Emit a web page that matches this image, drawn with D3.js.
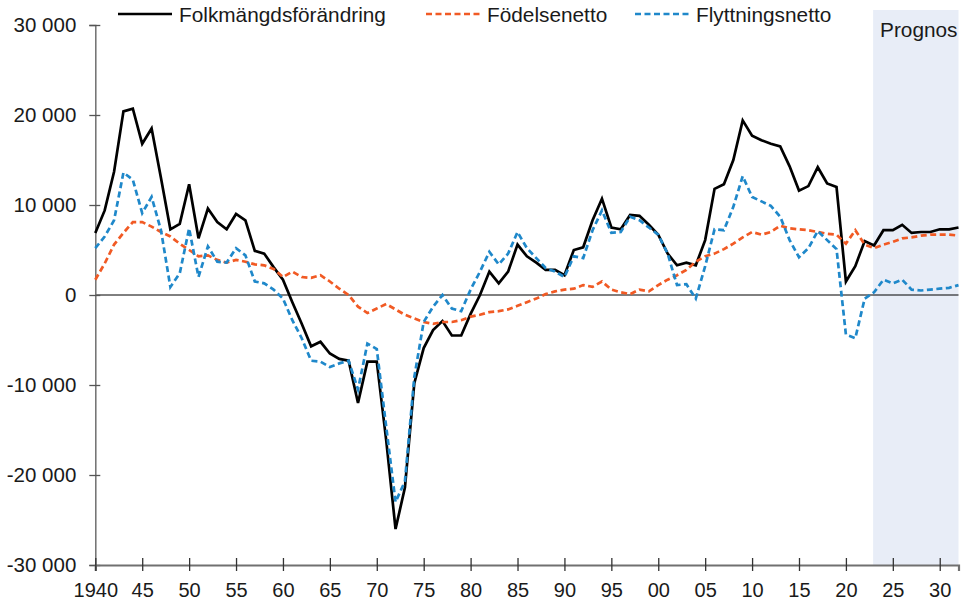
<!DOCTYPE html>
<html lang="sv">
<head>
    <meta charset="UTF-8">
    <title>Folkmängdsförändring</title>
    <script src="https://cdn.jsdelivr.net/npm/d3@7/dist/d3.min.js"></script>
    <style>
        body { margin: 0; background: #fff; }
        text { font-family: "Liberation Sans", Arial, sans-serif; fill: #1a1a1a; }
    </style>
</head>
<body>
<div id="chart"></div>
<script>

    // years 1940..2032
    const years = d3.range(1940, 2033);

    const folkmangd = [
        6900, 9400, 13700, 20400, 20700, 16800, 18500, 13000, 7300, 7900,
        12300, 6300, 9600, 8100, 7300, 9000, 8300, 4900, 4600, 3100,
        1700, -800, -3200, -5700, -5200, -6500, -7100, -7300, -12000, -7400,
        -7400, -16100, -26000, -21400, -9800, -5900, -3900, -2900, -4500, -4500,
        -2100, 0, 2600, 1300, 2600, 5600, 4300, 3600, 2800, 2800,
        2200, 5000, 5300, 8300, 10700, 7500, 7300, 8900, 8800, 7800,
        6700, 4600, 3300, 3600, 3300, 6100, 11800, 12300, 15000, 19400,
        17700, 17200, 16800, 16500, 14300, 11600, 12100, 14200, 12400, 12000,
        1500, 3200, 6000, 5500, 7200, 7200, 7800, 6900, 7000, 7000,
        7300, 7300, 7500
    ];

    const fodelsenetto = [
        1700, 3500, 5600, 6900, 8100, 8100, 7600, 7000, 6500, 5700,
        5000, 4300, 4400, 3900, 3600, 3900, 3700, 3400, 3300, 2900,
        2000, 2600, 2000, 1900, 2200, 1500, 700, 0, -1300, -2000,
        -1500, -1000, -1600, -2200, -2600, -3000, -3200, -3000, -3000, -2800,
        -2400, -2200, -1900, -1800, -1600, -1200, -800, -400, 100, 400,
        600, 700, 1100, 900, 1500, 600, 300, 100, 600, 400,
        1100, 1700, 2200, 2800, 3700, 4300, 4600, 5100, 5700, 6400,
        7000, 6700, 7000, 7700, 7400, 7300, 7200, 7000, 6800, 6700,
        5700, 7200, 5600, 5200, 5600, 5900, 6300, 6400, 6600, 6700,
        6700, 6700, 6600
    ];

    const flyttningsnetto = [
        5200, 6500, 8300, 13600, 12800, 9100, 10900, 7200, 900, 2400,
        7400, 2000, 5400, 3700, 3600, 5200, 4400, 1500, 1300, 600,
        -400, -2800, -4800, -7300, -7400, -8000, -7600, -7300, -10500, -5400,
        -6000, -14600, -23000, -20700, -9100, -3000, -1300, 0, -1500, -1800,
        600, 2600, 4800, 3400, 4600, 7000, 5200, 4100, 3000, 2600,
        2000, 4300, 4100, 7200, 9400, 6900, 7000, 8700, 8300, 7500,
        6700, 4600, 1100, 1200, -400, 3200, 7300, 7200, 9800, 13200,
        10900, 10400, 9900, 8700, 6100, 4200, 5200, 7100, 6100, 5100,
        -4400, -4800, -400, 300, 1700, 1300, 1700, 600, 500, 600,
        700, 800, 1100
    ];

    const yTicks = [-30000, -20000, -10000, 0, 10000, 20000, 30000];
    const xTicks = d3.range(1940, 2031, 5);
    const prognosStart = 2022.9;

    const series = [
        {name: "Folkmängdsförändring", values: folkmangd, color: "#000", dash: null},
        {name: "Födelsenetto", values: fodelsenetto, color: "#F15A24", dash: "6,3.5"},
        {name: "Flyttningsnetto", values: flyttningsnetto, color: "#1F88CA", dash: "6,3.5"}
    ];

    const width = 964, height = 604;

    const x = d3.scaleLinear().domain([1940, 2032]).range([95.3, 958.5]);
    const y = d3.scaleLinear().domain([-30000, 30000]).range([565, 25]);

    const sv = d3.formatLocale({decimal: ",", thousands: " ", grouping: [3], currency: ["", ""], minus: "-"});
    const fmt = sv.format(",d");

    const svg = d3.select("#chart")
        .append("svg")
        .attr("width", width)
        .attr("height", height);

    // prognosis band
    svg.append("rect")
        .attr("x", x(prognosStart))
        .attr("y", 10)
        .attr("width", x(2032) - x(prognosStart))
        .attr("height", y(-30000) - 10)
        .attr("fill", "#E8EDF7");

    svg.append("text")
        .attr("x", x(2032) - 1)
        .attr("y", 36.5)
        .attr("text-anchor", "end")
        .style("font-size", "20.8px")
        .text("Prognos");

    // zero line
    svg.append("line")
        .attr("x1", x(1940)).attr("x2", x(2032))
        .attr("y1", y(0)).attr("y2", y(0))
        .attr("stroke", "#000")
        .attr("stroke-width", 1);

    // axes
    const gy = svg.append("g")
        .attr("transform", `translate(${x(1940)},0)`)
        .call(d3.axisLeft(y).tickValues(yTicks).tickFormat(fmt).tickSize(6).tickPadding(13));
    gy.select(".domain").attr("stroke", "#707070").attr("stroke-width", 1.5);
    gy.selectAll(".tick line").attr("x1", 5).attr("stroke", "#555").attr("stroke-width", 1.3);
    gy.selectAll(".tick text").style("font-size", "20.5px").attr("fill", "#1a1a1a");

    const gx = svg.append("g")
        .attr("transform", `translate(0,${y(-30000)})`)
        .call(d3.axisBottom(x).tickValues(xTicks)
            .tickFormat(d => d === 1940 ? "1940" : String(d % 100).padStart(2, "0"))
            .tickSize(6).tickPadding(12));
    gx.select(".domain").attr("stroke", "#707070").attr("stroke-width", 2.2);
    gx.selectAll(".tick line").attr("y1", -7).attr("stroke", "#333").attr("stroke-width", 1.3);
    gx.selectAll(".tick text").style("font-size", "20px").attr("fill", "#1a1a1a");

    // lines
    const line = d3.line()
        .x((d, i) => x(years[i]))
        .y(d => y(d));

    svg.append("g")
        .selectAll("path")
        .data(series)
        .join("path")
        .attr("d", d => line(d.values))
        .attr("fill", "none")
        .attr("stroke", d => d.color)
        .attr("stroke-width", 2.7)
        .attr("stroke-dasharray", d => d.dash)
        .attr("stroke-linejoin", "miter");

    // legend
    const legendPos = [{x: 118, tx: 179}, {x: 426, tx: 487}, {x: 635, tx: 696}];
    const legend = svg.append("g")
        .selectAll("g")
        .data(series)
        .join("g");
    legend.append("line")
        .attr("x1", (d, i) => legendPos[i].x)
        .attr("x2", (d, i) => legendPos[i].x + 54)
        .attr("y1", 14).attr("y2", 14)
        .attr("stroke", d => d.color)
        .attr("stroke-width", 2.7)
        .attr("stroke-dasharray", d => d.dash);
    legend.append("text")
        .attr("x", (d, i) => legendPos[i].tx)
        .attr("y", 21.5)
        .style("font-size", "20.8px")
        .text(d => d.name);

</script>
</body>
</html>
